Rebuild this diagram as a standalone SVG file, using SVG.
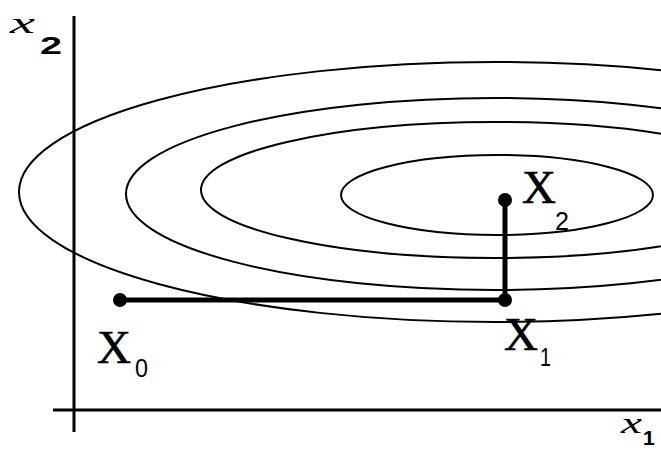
<svg xmlns="http://www.w3.org/2000/svg" width="661" height="450" viewBox="0 0 661 450">
<style>
.c{fill:none;stroke:#000;stroke-width:2}
.ax{stroke:#000;stroke-width:3}
.e{stroke:#000;stroke-width:5}
.d{fill:#000}
.X{font-family:"Liberation Serif",serif;font-size:47px;fill:#000;stroke:#000;stroke-width:0.6}
.s{font-family:"Liberation Sans",sans-serif;font-size:26px;fill:#000}
.v{font-family:"Liberation Serif",serif;font-style:italic;font-size:30px;fill:#000}
.vs{font-family:"Liberation Sans",sans-serif;font-weight:bold;font-size:24px;fill:#000}
</style>
<rect width="661" height="450" fill="#fff"/>
<g id="contours">
<ellipse class="c" cx="497" cy="195" rx="156" ry="40"/>
<ellipse class="c" cx="495" cy="190" rx="294" ry="68"/>
<ellipse class="c" cx="495" cy="194" rx="369" ry="96"/>
<ellipse class="c" cx="495" cy="192" rx="476" ry="130"/>
</g>
<g id="axes">
<line class="ax" x1="74" y1="16" x2="74" y2="432"/>
<line class="ax" x1="53" y1="410" x2="661" y2="410"/>
<text class="v" x="10" y="33" textLength="25" lengthAdjust="spacingAndGlyphs">x</text>
<text class="vs" x="40" y="54" textLength="22" lengthAdjust="spacingAndGlyphs">2</text>
<text class="v" x="621" y="433" textLength="21" lengthAdjust="spacingAndGlyphs">x</text>
<text class="vs" x="643" y="445" style="font-size:21px">1</text>
</g>
<g id="connectors">
<line class="e" x1="120" y1="300" x2="505" y2="300"/>
<line class="e" x1="505" y1="300" x2="505" y2="200"/>
</g>
<g id="X0">
<circle class="d" cx="120" cy="300" r="7"/>
<text class="X" x="97" y="363">X</text><text class="s" x="135" y="377" textLength="13" lengthAdjust="spacingAndGlyphs">0</text>
</g>
<g id="X1">
<circle class="d" cx="505" cy="300" r="7"/>
<text class="X" x="504" y="350">X</text><text class="s" x="540" y="366" textLength="11" lengthAdjust="spacingAndGlyphs">1</text>
</g>
<g id="X2">
<circle class="d" cx="505" cy="200" r="7"/>
<text class="X" x="522" y="203">X</text><text class="s" x="555" y="230" textLength="14" lengthAdjust="spacingAndGlyphs">2</text>
</g>
</svg>
